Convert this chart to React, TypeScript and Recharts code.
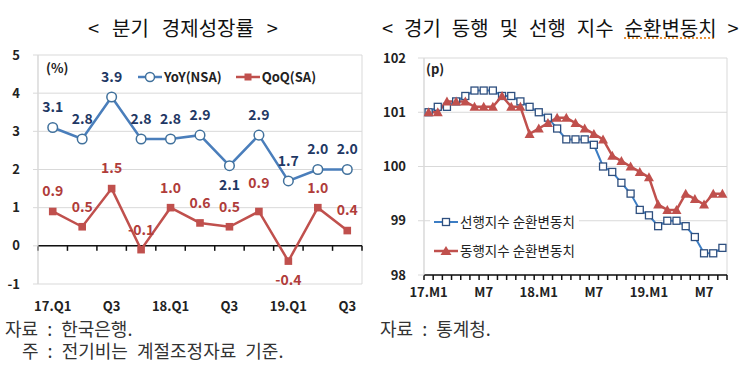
import React from "react";
import {
  CartesianGrid,
  LabelList,
  Legend,
  Line,
  LineChart,
  ReferenceLine,
  XAxis,
  YAxis
} from "recharts";

// 분기 경제성장률 (%)
const quarters = ["17.Q1", "17.Q2", "17.Q3", "17.Q4", "18.Q1", "18.Q2", "18.Q3", "18.Q4", "19.Q1", "19.Q2", "19.Q3"];
const yoyNsa = [3.1, 2.8, 3.9, 2.8, 2.8, 2.9, 2.1, 2.9, 1.7, 2.0, 2.0];
const qoqSa = [0.9, 0.5, 1.5, -0.1, 1.0, 0.6, 0.5, 0.9, -0.4, 1.0, 0.4];
const growthTicks = [-1, 0, 1, 2, 3, 4, 5];

// 경기 동행 / 선행 지수 순환변동치 (p)
const months = [
  "17.M1", "17.M2", "17.M3", "17.M4", "17.M5", "17.M6", "17.M7", "17.M8", "17.M9", "17.M10", "17.M11", "17.M12",
  "18.M1", "18.M2", "18.M3", "18.M4", "18.M5", "18.M6", "18.M7", "18.M8", "18.M9", "18.M10", "18.M11", "18.M12",
  "19.M1", "19.M2", "19.M3", "19.M4", "19.M5", "19.M6", "19.M7", "19.M8", "19.M9"
];
const leadingIdx = [
  101.0, 101.1, 101.1, 101.2, 101.3, 101.4, 101.4, 101.4, 101.3, 101.3, 101.2, 101.1,
  101.0, 100.9, 100.7, 100.5, 100.5, 100.5, 100.4, 100.0, 99.9, 99.7, 99.5, 99.2,
  99.1, 98.9, 99.0, 99.0, 98.9, 98.7, 98.4, 98.4, 98.5
];
const coincidentIdx = [
  101.0, 101.0, 101.2, 101.2, 101.2, 101.1, 101.1, 101.1, 101.3, 101.1, 101.1, 100.6,
  100.7, 100.8, 100.9, 100.9, 100.8, 100.7, 100.6, 100.5, 100.2, 100.1, 100.0, 99.9,
  99.8, 99.3, 99.2, 99.2, 99.5, 99.4, 99.3, 99.5, 99.5
];
const cycleTicks = [98, 99, 100, 101, 102];

const growthData = quarters.map((q, i) => ({ q, yoy: yoyNsa[i], qoq: qoqSa[i] }));
const cycleData = months.map((m, i) => ({ m, lead: leadingIdx[i], coin: coincidentIdx[i] }));

const FONT = "'Noto Sans CJK KR', 'Noto Sans', sans-serif";
const GRID = "#d9d9d9";
const BLUE = "#4a7ebb";
const RED = "#c0504d";

const shortTick = (v: string) => (v.endsWith("Q1") || v.endsWith(".M1") ? v : v.split(".")[1]);

// black axis line with tick marks between categories (Excel style)
const axisWithTicks = (count: number) => (props: any) => {
  const { x1, x2, y1 } = props;
  const step = (x2 - x1) / count;
  return (
    <g>
      <line x1={x1} x2={x2} y1={y1} y2={y1} stroke="#111" strokeWidth={1.5} />
      {Array.from({ length: count + 1 }, (_, k) => (
        <line key={k} x1={x1 + step * k} x2={x1 + step * k} y1={y1} y2={y1 + 5} stroke="#111" strokeWidth={1.5} />
      ))}
    </g>
  );
};

const valueLabel = (color: string, below: number[], nudge: Record<number, number>) => (props: any) => {
  const { x, y, value, index } = props;
  const dy = below.includes(index) ? 19 : -20 + (nudge[index] ?? 0);
  return (
    <text x={x} y={y + dy} dy="0.35em" textAnchor="middle" fill={color} fontSize={14} fontWeight={600} fontFamily={FONT}>
      {Number(value).toFixed(1)}
    </text>
  );
};

const edgeLines = ({ offset }: any) => [offset.left, offset.left + offset.width];

function GrowthLegend() {
  return (
    <div style={{ display: "flex", alignItems: "center", background: "#fff", fontSize: 13, fontWeight: 700, color: "#222", padding: "0 4px" }}>
      <svg width={24} height={12}>
        <line x1={0} x2={24} y1={6} y2={6} stroke={BLUE} strokeWidth={2.5} />
        <circle cx={12} cy={6} r={4.5} fill="#fff" stroke="#41719c" strokeWidth={1.5} />
      </svg>
      <span style={{ marginLeft: 2 }}>YoY(NSA)</span>
      <svg width={24} height={12} style={{ marginLeft: 14 }}>
        <line x1={0} x2={24} y1={6} y2={6} stroke={RED} strokeWidth={2.5} />
        <rect x={8.5} y={2.5} width={7} height={7} fill={RED} />
      </svg>
      <span style={{ marginLeft: 2 }}>QoQ(SA)</span>
    </div>
  );
}

function CycleLegend() {
  return (
    <div style={{ background: "#fff", fontSize: 13.5, color: "#222", padding: "4px 4px", lineHeight: "29px" }}>
      <div style={{ display: "flex", alignItems: "center" }}>
        <svg width={24} height={12}>
          <line x1={0} x2={24} y1={6} y2={6} stroke="#3c7dc4" strokeWidth={2} />
          <rect x={8.5} y={2.5} width={7} height={7} fill="#fff" stroke="#2e4f7f" strokeWidth={1.3} />
        </svg>
        <span style={{ marginLeft: 2 }}>선행지수 순환변동치</span>
      </div>
      <div style={{ display: "flex", alignItems: "center" }}>
        <svg width={24} height={12}>
          <line x1={0} x2={24} y1={6} y2={6} stroke={RED} strokeWidth={2.5} />
          <polygon points="12,1 6.5,10 17.5,10" fill={RED} />
        </svg>
        <span style={{ marginLeft: 2 }}>동행지수 순환변동치</span>
      </div>
    </div>
  );
}

const abs = (left: number, top: number): React.CSSProperties => ({ position: "absolute", left, top, whiteSpace: "nowrap" });
const titleStyle: React.CSSProperties = { fontSize: 20, lineHeight: "24px", color: "#111" };
const noteStyle: React.CSSProperties = { fontSize: 18, lineHeight: "18px", wordSpacing: 5, color: "#333" };

export default function App() {
  return (
    <div style={{ position: "absolute", left: 0, top: 0, width: 750, height: 365, background: "#fff", fontFamily: FONT, color: "#222" }}>
      <div style={{ ...abs(88, 16), ...titleStyle, wordSpacing: 8.5 }}>&lt; 분기 경제성장률 &gt;</div>
      <div style={{ ...abs(382, 16), ...titleStyle, wordSpacing: 6.5 }}>
        &lt; 경기 동행 및 선행 지수{" "}
        <span style={{ textDecorationLine: "underline", textDecorationStyle: "dotted", textDecorationColor: "#e69138" }}>순환변동치</span>{" "}
        &gt;
      </div>

      <div style={abs(0, 0)}>
        <LineChart width={375} height={325} data={growthData} margin={{ top: 55, right: 13, left: 8, bottom: 11 }}>
          <CartesianGrid stroke={GRID} verticalCoordinatesGenerator={edgeLines} />
          <XAxis
            dataKey="q"
            scale="band"
            interval={1}
            tickFormatter={shortTick}
            axisLine={false}
            tickLine={false}
            tickMargin={12}
            height={30}
            tick={{ fontSize: 13, fontWeight: 700, fill: "#222" }}
          />
          <YAxis
            domain={[-1, 5]}
            ticks={growthTicks}
            width={30}
            axisLine={{ stroke: GRID }}
            tickLine={{ stroke: GRID }}
            tickSize={5}
            tickMargin={13}
            tick={{ fontSize: 13, fontWeight: 700, fill: "#222" }}
          />
          <ReferenceLine y={0} shape={axisWithTicks(quarters.length)} />
          <Legend
            layout="horizontal"
            verticalAlign="middle"
            align="center"
            content={() => <GrowthLegend />}
            wrapperStyle={{ left: 134, top: 67, width: "auto" }}
          />
          <Line
            dataKey="yoy"
            stroke={BLUE}
            strokeWidth={2.5}
            isAnimationActive={false}
            dot={(p: any) => <circle key={p.index} cx={p.cx} cy={p.cy} r={4.8} fill="#fff" stroke="#41719c" strokeWidth={1.5} />}
          >
            <LabelList dataKey="yoy" content={valueLabel("#1f3864", [6], {})} />
          </Line>
          <Line
            dataKey="qoq"
            stroke={RED}
            strokeWidth={2.5}
            isAnimationActive={false}
            dot={(p: any) => <rect key={p.index} x={p.cx - 3.8} y={p.cy - 3.8} width={7.6} height={7.6} fill={RED} />}
          >
            <LabelList dataKey="qoq" content={valueLabel("#b03c3a", [8], { 7: -8 })} />
          </Line>
        </LineChart>
      </div>

      <div style={abs(375, 0)}>
        <LineChart width={375} height={325} data={cycleData} margin={{ top: 58, right: 23, left: 9, bottom: 20 }}>
          <CartesianGrid stroke={GRID} verticalCoordinatesGenerator={edgeLines} />
          <XAxis
            dataKey="m"
            scale="band"
            interval={5}
            tickFormatter={shortTick}
            axisLine={false}
            tickLine={false}
            tickMargin={7}
            height={30}
            tick={{ fontSize: 13, fontWeight: 700, fill: "#222" }}
          />
          <YAxis
            domain={[98, 102]}
            ticks={cycleTicks}
            width={40}
            axisLine={{ stroke: GRID }}
            tickLine={{ stroke: GRID }}
            tickSize={6}
            tickMargin={12}
            tick={{ fontSize: 13, fontWeight: 700, fill: "#222" }}
          />
          <ReferenceLine y={98} shape={axisWithTicks(months.length)} />
          <Legend
            layout="horizontal"
            verticalAlign="middle"
            align="center"
            content={() => <CycleLegend />}
            wrapperStyle={{ left: 55, top: 203, width: "auto" }}
          />
          <Line
            dataKey="lead"
            stroke="#3c7dc4"
            strokeWidth={2}
            isAnimationActive={false}
            dot={(p: any) => <rect key={p.index} x={p.cx - 3.5} y={p.cy - 3.5} width={7} height={7} fill="#fff" stroke="#2e4f7f" strokeWidth={1.3} />}
          />
          <Line
            dataKey="coin"
            stroke={RED}
            strokeWidth={2.5}
            isAnimationActive={false}
            dot={(p: any) => (
              <polygon key={p.index} points={`${p.cx},${p.cy - 5} ${p.cx - 5},${p.cy + 4} ${p.cx + 5},${p.cy + 4}`} fill={RED} />
            )}
          />
        </LineChart>
      </div>

      <div style={{ ...abs(46, 58), fontSize: 13, fontWeight: 700 }}>(%)</div>
      <div style={{ ...abs(426, 59), fontSize: 13, fontWeight: 700 }}>(p)</div>

      <div style={{ ...abs(5, 319), ...noteStyle }}>자료 : 한국은행.</div>
      <div style={{ ...abs(22, 341), ...noteStyle }}>주 : 전기비는 계절조정자료 기준.</div>
      <div style={{ ...abs(380, 319), ...noteStyle }}>자료 : 통계청.</div>
    </div>
  );
}
